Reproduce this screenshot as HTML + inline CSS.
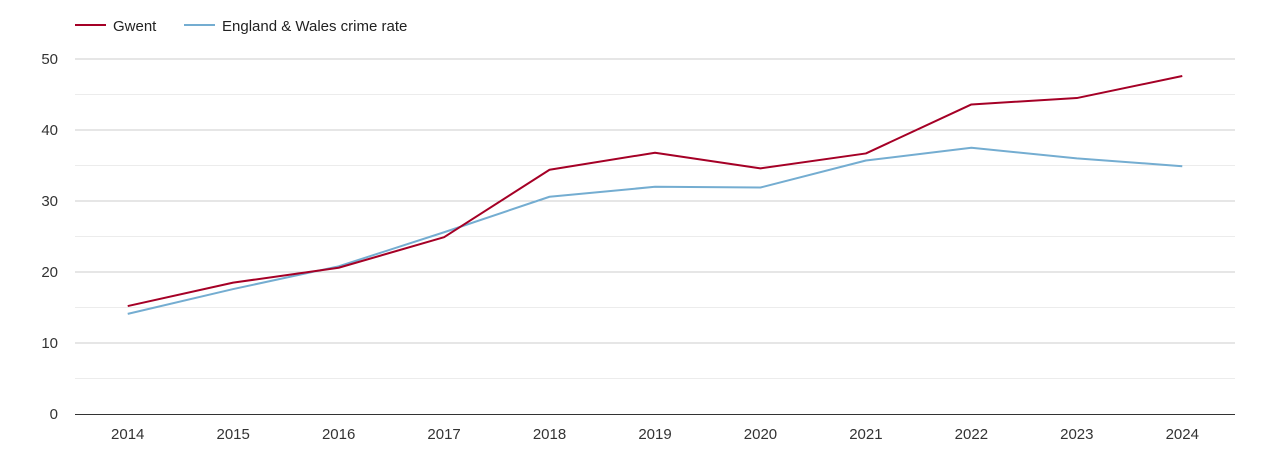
<!DOCTYPE html>
<html><head><meta charset="utf-8"><style>
body{margin:0;background:#fff;font-family:"Liberation Sans",Arial,sans-serif;}
svg text{font-family:"Liberation Sans",Arial,sans-serif;}
</style></head><body>
<svg id="chart" width="1270" height="450" xmlns="http://www.w3.org/2000/svg">
<g>
<g>
<line x1="75" y1="25" x2="106" y2="25" stroke="#a50026" stroke-width="2"/>
<text x="113" y="31" font-size="15" fill="#222">Gwent</text></g>
<g>
<line x1="184" y1="25" x2="215" y2="25" stroke="#74add1" stroke-width="2"/>
<text x="222" y="31" font-size="15" fill="#222">England &amp; Wales crime rate</text></g>
</g>
<g id="grid"></g>
<g id="yaxis"></g>
<g id="xaxis"></g>
<g id="series"></g>
</svg>
<script>
const years=["2014","2015","2016","2017","2018","2019","2020","2021","2022","2023","2024"];
const gwent=[15.2,18.5,20.6,24.9,34.4,36.8,34.6,36.7,43.6,44.5,47.6];
const englandWales=[14.1,17.6,20.8,25.6,30.6,32.0,31.9,35.7,37.5,36.0,34.9];
const yTicks=[0,10,20,30,40,50];
const NS="http://www.w3.org/2000/svg";
const x0=75,x1=1235,yBase=414,yTop=59,yMax=50;
const step=(x1-x0)/years.length;
const xs=i=>x0+step*(i+0.5);
const ys=v=>yBase-(v/yMax)*(yBase-yTop);
function mk(tag,attrs,parent){const e=document.createElementNS(NS,tag);for(const k in attrs)e.setAttribute(k,attrs[k]);parent.appendChild(e);return e;}
const grid=document.getElementById('grid'),ya=document.getElementById('yaxis'),xa=document.getElementById('xaxis'),ser=document.getElementById('series');
for(let v=5;v<=yMax;v+=10){
const l=mk('line',{x1:x0,x2:x1,y1:ys(v),y2:ys(v),stroke:'#ececec','stroke-width':1},grid);


}
yTicks.forEach(v=>{
if(v>0){const l=mk('line',{x1:x0,x2:x1,y1:ys(v),y2:ys(v),stroke:'#cccccc','stroke-width':1},grid);

}
const t=mk('text',{x:58,y:ys(v)+5,'font-size':15,fill:'#333','text-anchor':'end'},ya);
t.textContent=v;


});
const ax=mk('line',{x1:x0,x2:x1,y1:yBase+0.5,y2:yBase+0.5,stroke:'#333','stroke-width':1},xa);


years.forEach((y,i)=>{
const t=mk('text',{x:xs(i),y:439,'font-size':15,fill:'#333','text-anchor':'middle'},xa);
t.textContent=y;


});
function line(vals,color,name){
const p=mk('polyline',{points:vals.map((v,i)=>xs(i)+','+ys(v)).join(' '),fill:'none',stroke:color,'stroke-width':2,'stroke-linejoin':'round'},ser);


}
line(englandWales,'#74add1','england-wales-line');
line(gwent,'#a50026','gwent-line');
</script>
</body></html>
